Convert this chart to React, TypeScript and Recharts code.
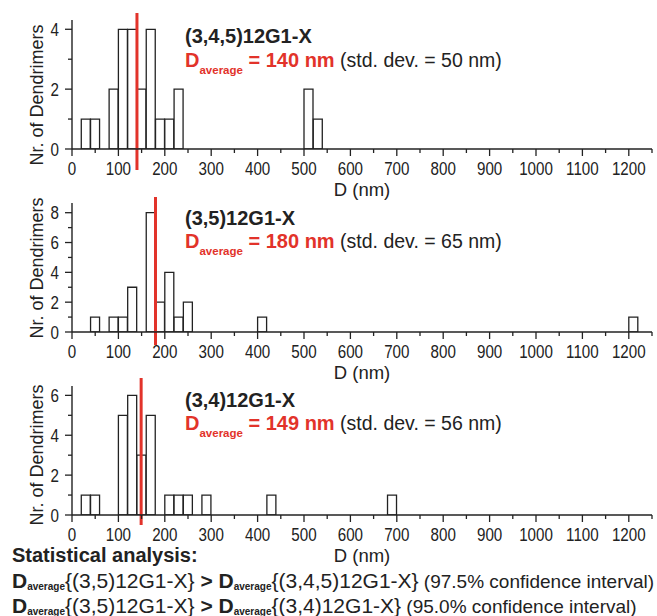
import React from "react";
import { BarChart, Bar, XAxis, YAxis, ReferenceLine } from "recharts";

const BIN = 20; // nm per histogram bin

const xTicks = [0, 50, 100, 150, 200, 250, 300, 350, 400, 450, 500, 550, 600, 650, 700, 750, 800, 850, 900, 950, 1000, 1050, 1100, 1150, 1200, 1250];

// (3,4,5)12G1-X
const binsA = [20, 40, 80, 100, 120, 140, 160, 180, 200, 220, 500, 520];
const countsA = [1, 1, 2, 4, 4, 2, 4, 1, 1, 2, 2, 1];
const yTicksA = [0, 1, 2, 3, 4];

// (3,5)12G1-X
const binsB = [40, 80, 100, 120, 160, 180, 200, 220, 240, 400, 1200];
const countsB = [1, 1, 1, 3, 8, 2, 4, 1, 2, 1, 1];
const yTicksB = [0, 1, 2, 3, 4, 5, 6, 7, 8];

// (3,4)12G1-X
const binsC = [20, 40, 100, 120, 140, 160, 200, 220, 240, 280, 420, 680];
const countsC = [1, 1, 5, 6, 3, 5, 1, 1, 1, 1, 1, 1];
const yTicksC = [0, 1, 2, 3, 4, 5, 6];

const names = ["(3,4,5)12G1-X", "(3,5)12G1-X", "(3,4)12G1-X"];
const averages = [140, 180, 149];
const stdDevs = [50, 65, 56];

const INK = "#222";
const RED = "#e2332a";
const SANS = "'Liberation Sans', Arial, sans-serif";

// tick labels in the figure are set in a condensed face; squeeze them horizontally
function XTick(props: any) {
  const { x, y, payload } = props;
  const v = payload.value;
  const major = v % 100 === 0;
  return (
    <g>
      <line x1={x} x2={x} y1={y} y2={y + (major ? 7 : 4)} stroke={INK} strokeWidth={1.3} />
      {major && (
        <text
          transform={`translate(${x},${y + 26}) scale(0.82,1)`}
          textAnchor="middle"
          fontSize={18.5}
          fontFamily={SANS}
          fill={INK}
        >
          {v}
        </text>
      )}
    </g>
  );
}

function YTick(props: any) {
  const { x, y, payload } = props;
  const v = payload.value;
  const major = v % 2 === 0;
  return (
    <g>
      <line x1={x - (major ? 7 : 4)} x2={x} y1={y} y2={y} stroke={INK} strokeWidth={1.3} />
      {major && (
        <text
          transform={`translate(${x - 13},${y + 6.5}) scale(0.82,1)`}
          textAnchor="end"
          fontSize={18.5}
          fontFamily={SANS}
          fill={INK}
        >
          {v}
        </text>
      )}
    </g>
  );
}

interface PanelProps {
  top: number;
  bins: number[];
  counts: number[];
  yTicks: number[];
  yMax: number;
  avg: number;
  extTop: number;
  extBottom: number;
}

function Panel({ top, bins, counts, yTicks, yMax, avg, extTop, extBottom }: PanelProps) {
  const data = bins.map((b, i) => ({ d: b + BIN / 2, n: counts[i] }));
  return (
    <div style={{ position: "absolute", left: 0, top }}>
      <BarChart
        width={657}
        height={180}
        data={data}
        margin={{ top: 20, right: 5, left: 32, bottom: 0 }}
        barCategoryGap={0}
        barGap={0}
      >
        <XAxis
          dataKey="d"
          type="number"
          domain={[0, 1250]}
          ticks={xTicks}
          interval={0}
          height={31}
          tickSize={0}
          tickMargin={0}
          stroke={INK}
          strokeWidth={1.4}
          tick={XTick}
          allowDataOverflow
        />
        <YAxis
          type="number"
          domain={[0, yMax]}
          ticks={yTicks}
          interval={0}
          width={40}
          tickSize={0}
          tickMargin={0}
          stroke={INK}
          strokeWidth={1.4}
          tick={YTick}
          allowDataOverflow
        />
        <Bar dataKey="n" fill="#fff" stroke={INK} strokeWidth={1.3} isAnimationActive={false} />
        <ReferenceLine
          x={avg}
          stroke={RED}
          strokeWidth={3}
          shape={(p: any) => (
            <line
              x1={p.x1}
              x2={p.x2}
              y1={Math.min(p.y1, p.y2) - extTop}
              y2={Math.max(p.y1, p.y2) + extBottom}
              stroke={RED}
              strokeWidth={3}
            />
          )}
        />
      </BarChart>
    </div>
  );
}

// baselines of the annotation text, per panel
const titleY = [43, 225, 407];
const avgY = [67, 248, 430];
const axisY = [149, 332, 515];
const yLabelMid = [95, 268, 455];

export default function App() {
  return (
    <div style={{ position: "absolute", left: 0, top: 0, width: 657, height: 616, background: "#fff", overflow: "hidden" }}>
      <Panel top={0} bins={binsA} counts={countsA} yTicks={yTicksA} yMax={4.31} avg={averages[0]} extTop={7} extBottom={21} />
      <Panel top={183} bins={binsB} counts={countsB} yTicks={yTicksB} yMax={8.65} avg={averages[1]} extTop={6} extBottom={13} />
      <Panel top={366} bins={binsC} counts={countsC} yTicks={yTicksC} yMax={6.47} avg={averages[2]} extTop={8} extBottom={10} />
      <svg width={657} height={616} style={{ position: "absolute", left: 0, top: 0, pointerEvents: "none" }}>
        {names.map((name, i) => (
          <g key={name} fontFamily={SANS} style={{ whiteSpace: "pre" }}>
            <text
              x={43}
              y={yLabelMid[i]}
              transform={`rotate(-90 43 ${yLabelMid[i]})`}
              textAnchor="middle"
              fontSize={18}
              fill={INK}
            >
              Nr. of Dendrimers
            </text>
            <text x={362} y={axisY[i] + 47} textAnchor="middle" fontSize={18.5} fill={INK}>
              D (nm)
            </text>
            <text x={185} y={titleY[i]} fontSize={20} fontWeight="bold" fill={INK}>
              {name}
            </text>
            <text x={185} y={avgY[i]} fontSize={20} fontWeight="bold" fill={RED}>
              <tspan>D</tspan>
              <tspan fontSize={11.5} dy={7}>average</tspan>
              <tspan dy={-7}>{` = ${averages[i]} nm`}</tspan>
              <tspan fontWeight="normal" fill={INK} fontSize={19.5}>{` (std. dev. = ${stdDevs[i]} nm)`}</tspan>
            </text>
          </g>
        ))}
        <g fontFamily={SANS} fill={INK} style={{ whiteSpace: "pre" }}>
          <text x={12} y={562} fontSize={20} fontWeight="bold">
            Statistical analysis:
          </text>
          <text x={12} y={588} fontSize={21}>
            <tspan fontWeight="bold">D</tspan>
            <tspan fontWeight="bold" fontSize={10} dy={2}>average</tspan>
            <tspan dy={-2}>{"{(3,5)12G1-X}"}</tspan>
            <tspan fontWeight="bold">{" > D"}</tspan>
            <tspan fontWeight="bold" fontSize={10} dy={2}>average</tspan>
            <tspan dy={-2}>{"{(3,4,5)12G1-X}"}</tspan>
            <tspan fontSize={19}>{" (97.5% confidence interval)"}</tspan>
          </text>
          <text x={12} y={612.5} fontSize={21}>
            <tspan fontWeight="bold">D</tspan>
            <tspan fontWeight="bold" fontSize={10} dy={2}>average</tspan>
            <tspan dy={-2}>{"{(3,5)12G1-X}"}</tspan>
            <tspan fontWeight="bold">{" > D"}</tspan>
            <tspan fontWeight="bold" fontSize={10} dy={2}>average</tspan>
            <tspan dy={-2}>{"{(3,4)12G1-X}"}</tspan>
            <tspan fontSize={19}>{" (95.0% confidence interval)"}</tspan>
          </text>
        </g>
      </svg>
    </div>
  );
}
